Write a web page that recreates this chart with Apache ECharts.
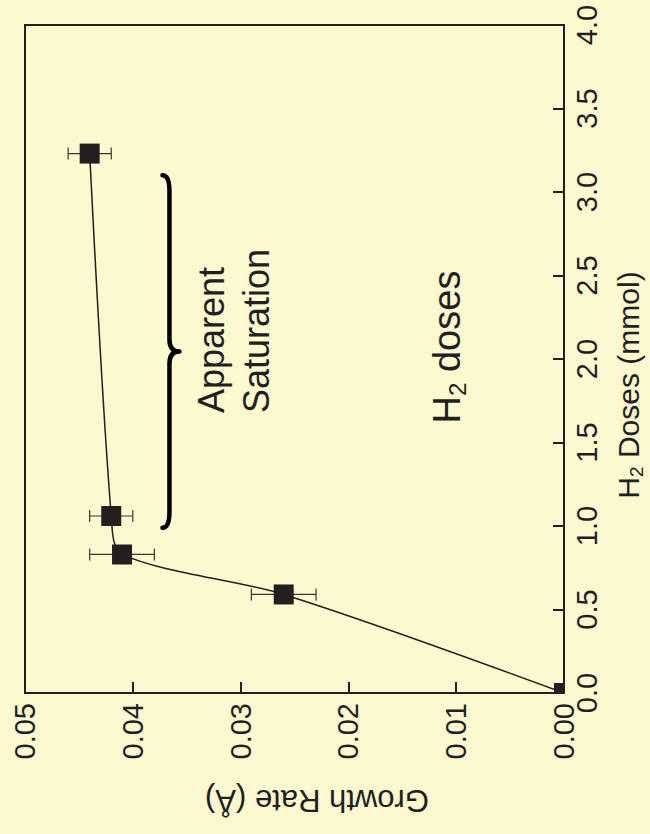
<!DOCTYPE html>
<html><head><meta charset="utf-8">
<script src="https://cdn.jsdelivr.net/npm/echarts@6/dist/echarts.min.js"></script>
<style>html,body{margin:0;padding:0;background:#fcf8cf}#c{width:650px;height:834px}</style>
</head><body><div id="c"></div>
<script>
// H2 doses (mmol) vs growth rate (Å) — figure is rotated 90° CCW
const doses      = [0.00, 0.59, 0.83, 1.06, 3.23];
const growthRate = [0.000, 0.026, 0.041, 0.042, 0.044];
const growthErr  = [0, 0.003, 0.003, 0.002, 0.002];
const braceDoseRange = [0.99, 3.10];
const braceGrowth = 0.0366;
const growthTicks = { min: 0, max: 0.05, interval: 0.01 };
const doseTicks = { min: 0, max: 4, interval: 0.5 };

const INK = '#231f20';
const FONT = '"Liberation Sans", Arial, sans-serif';

const pts = doses.map((d, i) => [growthRate[i], d, growthErr[i]]);

const chart = echarts.init(document.getElementById('c'), null, { renderer: 'svg' });
chart.setOption({
  backgroundColor: '#fcf8cf',
  animation: false,
  grid: { left: 25, top: 25, width: 539, height: 668, show: true, borderColor: INK, borderWidth: 2, backgroundColor: 'transparent' },
  xAxis: {
    type: 'value', min: growthTicks.min, max: growthTicks.max, interval: growthTicks.interval,
    inverse: true, position: 'bottom',
    axisLine: { show: true, lineStyle: { color: INK, width: 2 } },
    axisTick: { show: true, inside: true, length: 11, lineStyle: { color: INK, width: 2 } },
    axisLabel: { rotate: 90, margin: 10, fontSize: 29, fontFamily: FONT, color: INK, formatter: v => v.toFixed(2) },
    splitLine: { show: false }
  },
  yAxis: {
    type: 'value', min: doseTicks.min, max: doseTicks.max, interval: doseTicks.interval,
    position: 'right',
    axisLine: { show: true, lineStyle: { color: INK, width: 2 } },
    axisTick: { show: true, inside: true, length: 11, lineStyle: { color: INK, width: 2 } },
    axisLabel: { rotate: 90, margin: 8, fontSize: 29, fontFamily: FONT, color: INK, formatter: v => v.toFixed(1) },
    splitLine: { show: false }
  },
  series: [
    {
      type: 'line', data: pts.map(p => [p[0], p[1]]), smooth: 0.3, symbol: 'none',
      lineStyle: { color: INK, width: 1.5 }, z: 2
    },
    {
      type: 'custom', clip: true, z: 3,
      data: pts,
      renderItem: (params, api) => {
        const g = api.value(0), d = api.value(1), e = api.value(2);
        const c = api.coord([g, d]);
        const children = [];
        if (e > 0) {
          const a = api.coord([g - e, d]), b = api.coord([g + e, d]);
          const ls = { stroke: '#3a3536', lineWidth: 1.2 };
          children.push({ type: 'line', shape: { x1: a[0], y1: a[1], x2: b[0], y2: b[1] }, style: ls });
          children.push({ type: 'line', shape: { x1: a[0], y1: a[1] - 6, x2: a[0], y2: a[1] + 6 }, style: ls });
          children.push({ type: 'line', shape: { x1: b[0], y1: b[1] - 6, x2: b[0], y2: b[1] + 6 }, style: ls });
        }
        children.push({ type: 'rect', shape: { x: c[0] - 10, y: c[1] - 10, width: 20, height: 20 }, style: { fill: INK } });
        return { type: 'group', children };
      }
    },
    {
      type: 'custom', clip: false, z: 3,
      data: [[braceGrowth, braceDoseRange[0], braceDoseRange[1]]],
      renderItem: (params, api) => {
        const g = api.value(0);
        const b = api.coord([g, api.value(1)]);
        const t = api.coord([g, api.value(2)]);
        const x = b[0], yb = b[1], yt = t[1], ym = (yb + yt) / 2;
        const p = `M ${x-7} ${yt} Q ${x} ${yt} ${x} ${yt+16} L ${x} ${ym-12} Q ${x} ${ym} ${x+10} ${ym} Q ${x} ${ym} ${x} ${ym+12} L ${x} ${yb-16} Q ${x} ${yb} ${x-7} ${yb}`;
        return { type: 'path', shape: { pathData: p }, style: { fill: 'none', stroke: '#000', lineWidth: 4.5, lineCap: 'round', lineJoin: 'round' } };
      }
    }
  ],
  graphic: [
    { type: 'text', x: 317, y: 800, rotation: Math.PI,
      style: { text: 'Growth Rate (Å)', fontSize: 31, fontFamily: FONT, fill: INK, align: 'center', verticalAlign: 'middle' } },
    { type: 'text', x: 628, y: 385, rotation: Math.PI / 2,
      style: { text: 'H{sub|2} Doses (mmol)', fontSize: 30, fontFamily: FONT, fill: INK, align: 'center', verticalAlign: 'middle',
        rich: { sub: { fontSize: 19, fontFamily: FONT, fill: INK, padding: [16, 0, 0, 0] } } } },
    { type: 'text', x: 447, y: 347, rotation: Math.PI / 2,
      style: { text: 'H{sub|2} doses', fontSize: 38, fontFamily: FONT, fill: INK, align: 'center', verticalAlign: 'middle',
        rich: { sub: { fontSize: 24, fontFamily: FONT, fill: INK, padding: [20, 0, 0, 0] } } } },
    { type: 'text', x: 234, y: 413, rotation: Math.PI / 2,
      style: { text: 'Apparent\nSaturation', fontSize: 36, lineHeight: 45, fontFamily: FONT, fill: INK, align: 'left', verticalAlign: 'middle' } }
  ]
});
</script></body></html>
